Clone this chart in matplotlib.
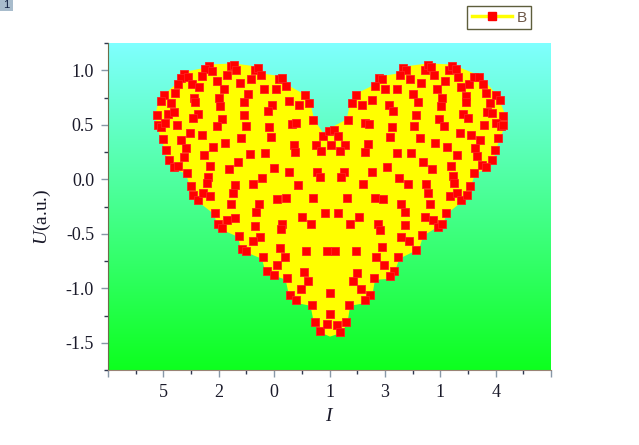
import numpy as np
import matplotlib.pyplot as plt
from matplotlib.patches import Rectangle
from matplotlib.lines import Line2D

plt.rcParams['font.family'] = ['Liberation Serif', 'DejaVu Serif']
plt.rcParams['mathtext.fontset'] = 'custom'
plt.rcParams['mathtext.it'] = 'Liberation Serif:italic'
plt.rcParams['mathtext.rm'] = 'Liberation Serif'
plt.rcParams['axes.unicode_minus'] = False

# x axis categories
tick_pos = [1, 2, 3, 4, 5, 6, 7]
tick_labels = ['5', '2', '0', '1', '3', '1', '4']

# series B - upper left lobe
b_left_x = [1.82, 1.75, 1.88, 2.22, 2.28, 2.32, 2.65, 2.71, 2.76, 1.38, 1.32, 1.45, 1.70, 2.15, 2.59, 3.08,
            3.15, 1.26, 1.51, 1.64, 1.96, 2.38, 3.21, 1.21, 1.02, 0.95, 1.14, 1.56, 1.58, 2.00, 2.09, 2.52,
            2.82, 3.03, 2.45, 2.96, 2.89, 3.26, 3.56, 3.63, 3.45, 2.03, 1.09, 1.20, 1.63, 1.53, 0.89, 2.46,
            2.06, 0.91, 0.96, 1.03, 1.25, 1.96, 2.50, 2.91, 3.33, 3.40, 3.70, 0.99, 1.32, 1.48, 1.69, 1.40,
            1.90, 2.12, 2.41, 2.94, 3.35, 3.38, 3.75, 3.85, 3.89, 1.05, 1.10, 1.20, 1.27, 1.37, 1.74, 1.85,
            2.18, 2.35, 2.57, 2.83, 3.00, 3.27, 3.77, 3.82, 1.43, 1.81, 1.79, 1.50, 2.29, 2.62, 2.79, 3.44]
b_left_y = [1.04, 1.01, 0.99, 1.04, 1.05, 1.00, 1.00, 1.02, 0.96, 0.97, 0.93, 0.94, 0.95, 0.96, 0.92, 0.92,
            0.93, 0.87, 0.87, 0.85, 0.90, 0.88, 0.86, 0.79, 0.77, 0.72, 0.70, 0.75, 0.71, 0.75, 0.83, 0.78,
            0.83, 0.83, 0.71, 0.68, 0.63, 0.72, 0.77, 0.70, 0.68, 0.67, 0.60, 0.62, 0.60, 0.56, 0.59, 0.59,
            0.55, 0.50, 0.48, 0.52, 0.50, 0.49, 0.49, 0.48, 0.51, 0.52, 0.54, 0.37, 0.36, 0.42, 0.41, 0.29,
            0.30, 0.33, 0.38, 0.39, 0.31, 0.25, 0.31, 0.26, 0.40, 0.27, 0.18, 0.11, 0.12, 0.20, 0.22, 0.12,
            0.09, 0.16, 0.23, 0.24, 0.10, 0.07, 0.07, 0.02, 0.06, 0.02, -0.03, -0.06, -0.05, -0.04, 0.01, -0.05]

# series B - upper right lobe
b_right_x = [5.33, 5.39, 5.27, 5.45, 5.72, 5.77, 5.84, 5.89, 6.16, 6.22, 6.29, 6.32, 4.89, 4.95, 4.83, 5.00,
             5.22, 5.66, 6.08, 5.95, 6.38, 6.52, 6.61, 6.70, 6.77, 4.47, 4.40, 4.58, 4.77, 5.08, 5.15, 5.51,
             5.59, 6.04, 6.01, 6.47, 6.46, 6.83, 7.01, 7.08, 6.90, 6.84, 6.94, 7.14, 6.41, 6.50, 4.34, 4.64,
             4.71, 5.57, 5.98, 6.07, 5.13, 5.53, 6.79, 7.00, 7.09, 7.14, 3.99, 4.09, 4.15, 4.03, 4.28, 4.19,
             4.69, 4.65, 5.10, 5.63, 5.90, 6.35, 6.55, 6.72, 7.05, 6.63, 6.99, 5.21, 5.47, 6.13, 6.30, 6.67,
             6.93, 6.76, 6.83, 5.69, 5.85, 6.19, 5.04, 4.27, 4.21, 4.76, 6.61, 5.26, 5.42, 6.23, 6.24, 5.75,
             6.54, 4.60]
b_right_y = [1.02, 1.00, 0.96, 0.92, 1.00, 1.05, 1.03, 0.96, 1.00, 1.04, 1.01, 0.94, 0.93, 0.92, 0.86, 0.83,
             0.83, 0.88, 0.90, 0.83, 0.85, 0.87, 0.94, 0.94, 0.87, 0.77, 0.70, 0.68, 0.73, 0.68, 0.63, 0.78,
             0.71, 0.75, 0.67, 0.76, 0.71, 0.79, 0.77, 0.73, 0.70, 0.62, 0.61, 0.58, 0.60, 0.56, 0.54, 0.52,
             0.51, 0.59, 0.55, 0.49, 0.48, 0.49, 0.50, 0.52, 0.49, 0.50, 0.44, 0.45, 0.40, 0.31, 0.31, 0.26,
             0.32, 0.25, 0.39, 0.38, 0.33, 0.42, 0.41, 0.36, 0.38, 0.29, 0.27, 0.24, 0.24, 0.30, 0.22, 0.21,
             0.18, 0.13, 0.11, 0.16, 0.09, 0.12, 0.11, 0.07, 0.02, 0.07, 0.06, 0.01, -0.04, 0.03, -0.03, -0.04,
             -0.06, -0.04]

# series B - lower left
b_low_left_x = [1.54, 1.63, 1.72, 1.85, 2.25, 2.22, 2.73, 3.06, 3.21, 3.71, 1.93, 2.67, 2.14, 2.29, 1.99,
                2.05, 2.66, 3.15, 3.12, 3.51, 3.67, 2.36, 2.74, 2.61, 2.42, 2.50, 3.11, 3.57, 2.80, 3.19,
                3.05, 2.88, 2.99, 3.54, 3.61, 3.24, 3.49, 3.29, 3.39, 3.68, 3.74, 3.83]
b_low_left_y = [-0.14, -0.19, -0.13, -0.15, -0.13, -0.23, -0.23, -0.18, -0.17, -0.17, -0.31, -0.30, -0.37,
                -0.36, -0.41, -0.45, -0.43, -0.41, -0.46, -0.35, -0.41, -0.52, -0.53, -0.57, -0.64, -0.66,
                -0.63, -0.66, -0.71, -0.71, -0.79, -0.84, -0.88, -0.85, -0.93, -0.91, -1.01, -1.06, -1.11,
                -1.15, -1.31, -1.39]

# series B - lower right
b_low_right_x = [4.32, 4.82, 4.97, 5.30, 5.36, 5.78, 5.82, 6.17, 6.31, 6.38, 6.49, 3.92, 4.16, 4.37, 4.53,
                 4.88, 4.92, 5.37, 5.73, 5.87, 5.96, 6.04, 6.11, 5.29, 5.43, 5.67, 3.95, 4.10, 4.47, 4.94,
                 4.84, 5.24, 5.57, 4.99, 5.17, 5.09, 4.50, 4.43, 4.80, 4.56, 4.74, 4.65, 4.01, 4.35, 4.01,
                 3.95, 4.13, 4.30, 4.19]
b_low_right_y = [-0.17, -0.17, -0.18, -0.23, -0.30, -0.13, -0.23, -0.15, -0.13, -0.19, -0.14, -0.31, -0.31,
                 -0.41, -0.35, -0.41, -0.47, -0.42, -0.35, -0.37, -0.44, -0.41, -0.31, -0.53, -0.57, -0.51,
                 -0.66, -0.66, -0.66, -0.62, -0.71, -0.71, -0.65, -0.79, -0.84, -0.89, -0.86, -0.93, -0.91,
                 -1.01, -1.06, -1.11, -1.04, -1.15, -1.24, -1.33, -1.34, -1.31, -1.40]

# outline of the yellow line band
band_x = [4.03, 4.33, 4.40, 4.48, 4.84, 4.89, 5.27, 5.33, 5.78, 6.21, 6.70, 7.00, 7.15, 7.15, 7.04, 6.99,
          6.93, 6.82, 6.61, 6.53, 6.50, 6.39, 6.10, 6.03, 5.67, 5.60, 5.24, 5.16, 5.13, 4.80, 4.75, 4.68,
          4.35, 4.30, 4.19, 4.01, 3.83, 3.74, 3.68, 3.38, 3.29, 3.23, 2.98, 2.87, 2.80, 2.51, 2.42, 2.37,
          2.06, 1.99, 1.93, 1.63, 1.53, 1.50, 1.43, 1.19, 1.10, 1.05, 0.99, 0.90, 0.88, 0.94, 1.01, 1.26,
          1.32, 1.37, 1.75, 1.82, 2.27, 2.71, 2.76, 3.14, 3.21, 3.56, 3.63, 3.70, 3.90]
band_y = [0.46, 0.54, 0.70, 0.77, 0.86, 0.93, 0.96, 1.02, 1.05, 1.04, 0.94, 0.77, 0.59, 0.49, 0.37, 0.27,
          0.18, 0.11, 0.06, -0.06, -0.14, -0.19, -0.31, -0.40, -0.51, -0.63, -0.72, -0.84, -0.90, -0.91,
          -1.06, -1.12, -1.15, -1.32, -1.40, -1.43, -1.39, -1.31, -1.15, -1.12, -1.06, -0.91, -0.87, -0.85,
          -0.72, -0.66, -0.63, -0.52, -0.45, -0.40, -0.31, -0.19, -0.14, -0.06, 0.06, 0.11, 0.18, 0.27,
          0.37, 0.49, 0.59, 0.72, 0.76, 0.87, 0.93, 0.97, 1.01, 1.04, 1.05, 1.02, 0.96, 0.93, 0.86, 0.76,
          0.70, 0.54, 0.39]

pts_x = b_left_x + b_right_x + b_low_left_x + b_low_right_x
pts_y = b_left_y + b_right_y + b_low_left_y + b_low_right_y

fig = plt.figure(figsize=(6.39, 4.45), dpi=100)
ax = fig.add_axes([108 / 639, 75 / 445, 443 / 639, 327 / 445])

# background gradient cyan -> green
top = np.array([0.50, 1.0, 1.0])
bot = np.array([0.05, 1.0, 0.12])
t = np.linspace(0, 1, 256)[:, None]
grad = top * (1 - t) + bot * t
ax.imshow(grad[:, None, :], extent=[0, 8, -1.75, 1.25], aspect='auto', zorder=0)

ax.fill(band_x, band_y, color='#ffff00', lw=2, ec='#ffff00', zorder=1)
ax.plot(pts_x, pts_y, ls='none', marker='s', ms=6, mfc='#ff0000', mec='#ff2020', mew=0.6, zorder=3)

ax.set_xlim(0, 8)
ax.set_ylim(-1.75, 1.25)
ax.set_xticks([0] + tick_pos + [8])
ax.set_xticklabels([''] + tick_labels + [''])
ax.set_xticks(np.arange(0.5, 8, 1), minor=True)
ax.set_yticks([-1.5, -1.0, -0.5, 0.0, 0.5, 1.0])
ax.set_yticklabels(['-1.5', '-1.0', '-0.5', '0.0', '0.5', '1.0'])
ax.set_yticks(np.arange(-1.75, 1.3, 0.5), minor=True)

ax.spines['top'].set_visible(False)
ax.spines['right'].set_visible(False)
ax.spines['left'].set_color('#6d6d48')
ax.spines['bottom'].set_color('#9a8476')
ax.tick_params(which='major', direction='out', length=5, width=1, color='#8898a8',
               labelsize=13, labelcolor='#1a1a2a', pad=5)
ax.tick_params(which='minor', direction='out', length=3, width=1, color='#303850')

ax.set_ylabel(r'$U$(a.u.)', fontsize=14, color='#1a1a2a')
ax.yaxis.set_label_coords(-0.125, 0.47)
ax.set_xlabel(r'$I$', fontsize=14, color='#1a1a2a')
ax.xaxis.set_label_coords(0.5, -0.115)

h = Line2D([], [], color='#ffff00', lw=2.5, marker='s', ms=6, mfc='#ff0000', mec='#ff0000')
leg = fig.legend(handles=[h], labels=['B'], loc='upper right', bbox_to_anchor=(531 / 639, 1 - 6 / 445),
                 frameon=True, fancybox=False, edgecolor='#5e5e3c', framealpha=1,
                 prop={'family': 'Liberation Sans', 'size': 11}, handlelength=2.6,
                 borderpad=0.3, handletextpad=0.3, borderaxespad=0)
leg.get_frame().set_linewidth(1)
for txt in leg.get_texts():
    txt.set_color('#6e5848')

# layer marker in the corner
fig.patches.append(Rectangle((0, 1 - 11 / 445), 13 / 639, 11 / 445, transform=fig.transFigure,
                             fc='#a8bccc', ec='none'))
fig.text(6 / 639, 1 - 5.5 / 445, '1', ha='center', va='center', fontsize=8,
         family='Liberation Sans', color='#102040')

fig.savefig('out.png', dpi=100)
